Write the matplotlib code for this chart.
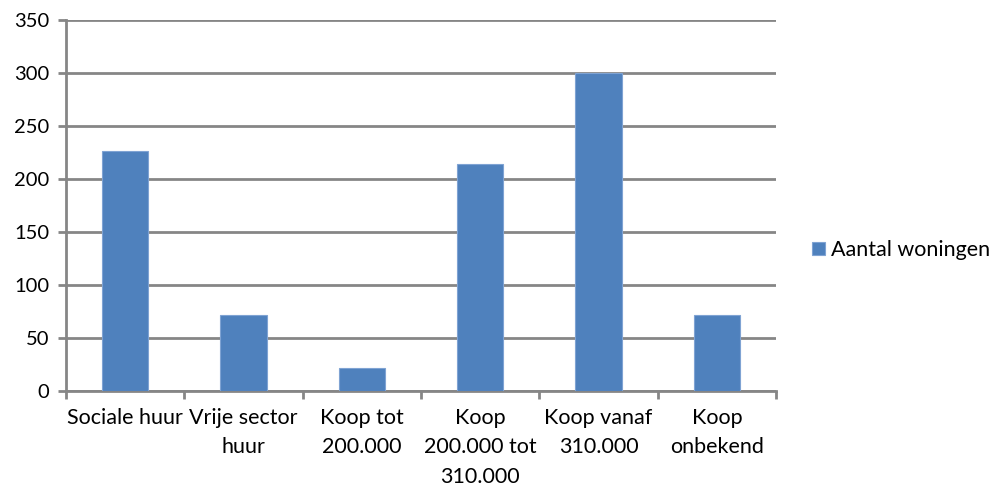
import matplotlib
matplotlib.use("Agg")
import matplotlib.pyplot as plt
import numpy as np

# woningtypes en aantallen
categorieen = ["Sociale huur", "Vrije sector\nhuur", "Koop tot\n200.000",
               "Koop\n200.000 tot\n310.000", "Koop vanaf\n310.000", "Koop\nonbekend"]
aantallen = [226, 72, 22, 214, 300, 72]
y_ticks = [0, 50, 100, 150, 200, 250, 300, 350]

plt.rcParams['font.family'] = ['Lato', 'DejaVu Sans']

fig = plt.figure(figsize=(9.92, 4.88), dpi=100)
ax = fig.add_axes([66 / 992, 1 - 391 / 488, 710 / 992, 371 / 488])

x = np.arange(len(categorieen))
ax.bar(x, aantallen, width=0.39, color="#4F81BD", edgecolor="#7FA3D3",
       linewidth=0.8, label="Aantal woningen", zorder=3)

grijs = "#868686"
ax.set_ylim(0, 350)
ax.set_xlim(-0.5, len(categorieen) - 0.5)
ax.set_yticks(y_ticks)
ax.yaxis.grid(True, color=grijs, linewidth=2, zorder=0)

# ticks tussen de categorieen, labels in het midden
ax.set_xticks(np.arange(len(categorieen) + 1) - 0.5)
ax.set_xticklabels([])
ax.set_xticks(x, minor=True)
ax.set_xticklabels(categorieen, minor=True, fontsize=15.5, linespacing=1.6,
                   va="top")
ax.tick_params(axis="x", which="minor", length=0, pad=12)
ax.tick_params(axis="x", which="major", length=6, width=2, color=grijs)
ax.tick_params(axis="y", length=6, width=2, color=grijs, labelsize=14.5, pad=6)

for kant in ["top", "right"]:
    ax.spines[kant].set_visible(False)
for kant in ["left", "bottom"]:
    ax.spines[kant].set_color(grijs)
    ax.spines[kant].set_linewidth(2)

fig.legend(loc="center left", bbox_to_anchor=(793 / 992, 1 - 250 / 488),
           frameon=False, fontsize=15.5, handlelength=0.6, handleheight=0.6,
           handletextpad=0.25)

fig.savefig("out.png", dpi=100)
